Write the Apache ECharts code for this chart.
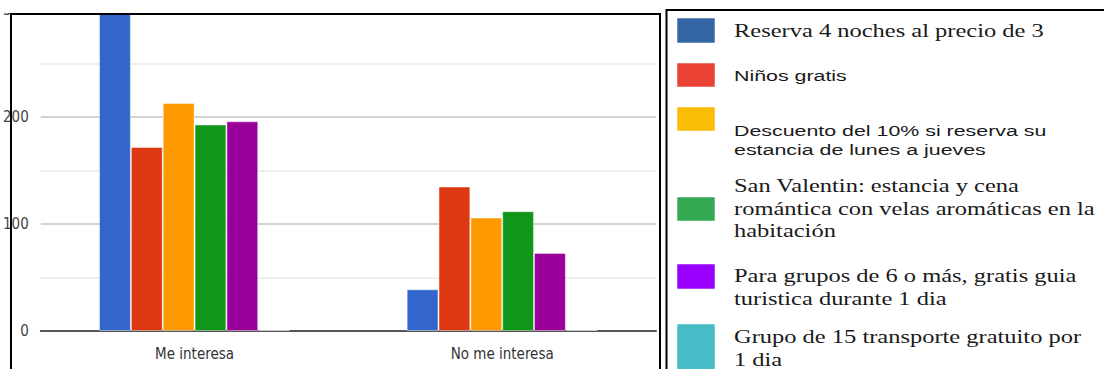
<!DOCTYPE html>
<html>
<head>
<meta charset="utf-8">
<script src="https://cdn.jsdelivr.net/npm/echarts@6/dist/echarts.min.js"></script>
<style>
html,body{margin:0;padding:0;background:#fff;}
#chart{width:1104px;height:369px;}
</style>
</head>
<body>
<div id="chart"></div>
<script>
// ---- data ----
const categories = ['Me interesa', 'No me interesa'];
const seriesNames = [
  'Reserva 4 noches al precio de 3',
  'Niños gratis',
  'Descuento del 10% si reserva su estancia de lunes a jueves',
  'San Valentin: estancia y cena romántica con velas aromáticas en la habitación',
  'Para grupos de 6 o más, gratis guia turistica durante 1 dia',
  'Grupo de 15 transporte gratuito por 1 dia'
];
const legendLines = [
  'Reserva 4 noches al precio de 3',
  'Niños gratis',
  'Descuento del 10% si reserva su\nestancia de lunes a jueves',
  'San Valentin: estancia y cena\nromántica con velas aromáticas en la\nhabitación',
  'Para grupos de 6 o más, gratis guia\nturistica durante 1 dia',
  'Grupo de 15 transporte gratuito por\n1 dia'
];
const reserva4x3   = [300, 39];
const ninosGratis  = [172, 135];
const descuento10  = [213, 106];
const sanValentin  = [193, 112];
const grupos6      = [196, 73];
const grupo15      = [1, 1];
const yTickLabels  = [0, 100, 200, 300];

// ---- styles ----
const barColors = ['#3366cc', '#dc3912', '#ff9900', '#109618', '#990099', '#0099c6'];
const legendColors = ['#3465a5', '#ea4335', '#fbbc04', '#34a853', '#9900ff', '#46bdc6'];
const values = [reserva4x3, ninosGratis, descuento10, sanValentin, grupos6, grupo15];
const axisFont = "'Liberation Sans Narrow', 'DejaVu Sans Condensed', 'Liberation Sans', sans-serif";

// legend layout (pixels)
const legendSquares = [[18, 25], [63, 24], [107, 24], [197, 24], [264, 25], [324, 50]];
const legendTextY = [19.6, 66.7, 121.4, 174.6, 264.6, 325.6];
const legendFonts = ['serif', 'sans', 'sans', 'serif', 'serif', 'serif'];

const graphics = [];
// cropping cover at the top of the chart panel
graphics.push({type: 'rect', shape: {x: 0, y: 0, width: 664, height: 13}, style: {fill: '#fff'}, z: 50});
// chart panel border
graphics.push({type: 'rect', shape: {x: 11, y: 14, width: 649, height: 420}, style: {fill: 'none', stroke: '#000', lineWidth: 2}, z: 60});
// legend box border
graphics.push({type: 'rect', shape: {x: 666.5, y: 10, width: 500, height: 420}, style: {fill: 'none', stroke: '#000', lineWidth: 2}, z: 60});

legendLines.forEach((txt, i) => {
  graphics.push({
    type: 'rect',
    shape: {x: 677, y: legendSquares[i][0], width: 38, height: legendSquares[i][1]},
    style: {fill: legendColors[i], stroke: 'rgba(255,255,255,0.5)', lineWidth: 1},
    z: 55
  });
  const serif = legendFonts[i] === 'serif';
  graphics.push({
    type: 'text',
    x: 734,
    y: legendTextY[i],
    scaleX: serif ? 1.36 : 1.38,
    style: {
      text: txt,
      fill: '#1a1a1a',
      fontFamily: serif ? "'Liberation Serif', 'DejaVu Serif', serif" : "'Liberation Sans', Arial, sans-serif",
      fontSize: serif ? 18 : 15.5,
      lineHeight: serif ? 22.7 : 18.5,
      align: 'left',
      verticalAlign: 'top'
    },
    z: 55
  });
});

const chart = echarts.init(document.getElementById('chart'), null, {renderer: 'svg'});
chart.setOption({
  animation: false,
  backgroundColor: '#fff',
  grid: {left: 37.5, right: 448, top: 10, bottom: 38, containLabel: false},
  xAxis: {
    type: 'category',
    data: categories,
    axisTick: {show: false},
    axisLine: {show: true, lineStyle: {color: '#555', width: 2}},
    axisLabel: {fontFamily: axisFont, fontSize: 15, color: '#333', margin: 15}
  },
  yAxis: {
    type: 'value',
    min: 0,
    max: 300,
    interval: 100,
    axisLine: {show: false},
    axisTick: {show: false},
    axisLabel: {
      fontFamily: axisFont, fontSize: 15, color: '#444', margin: 12,
      formatter: v => (yTickLabels.indexOf(v) >= 0 ? String(v) : '')
    },
    splitLine: {show: true, lineStyle: {color: '#d2d2d2', width: 2}},
    minorTick: {show: false, splitNumber: 2},
    minorSplitLine: {show: true, lineStyle: {color: '#eeeeee', width: 2}}
  },
  series: seriesNames.map((name, i) => ({
    name: name,
    type: 'bar',
    data: values[i],
    barGap: '0%',
    barCategoryGap: '37.9%',
    itemStyle: {color: barColors[i], borderColor: 'rgba(255,255,255,0.45)', borderWidth: 1}
  })),
  graphic: graphics
});
</script>
</body>
</html>
